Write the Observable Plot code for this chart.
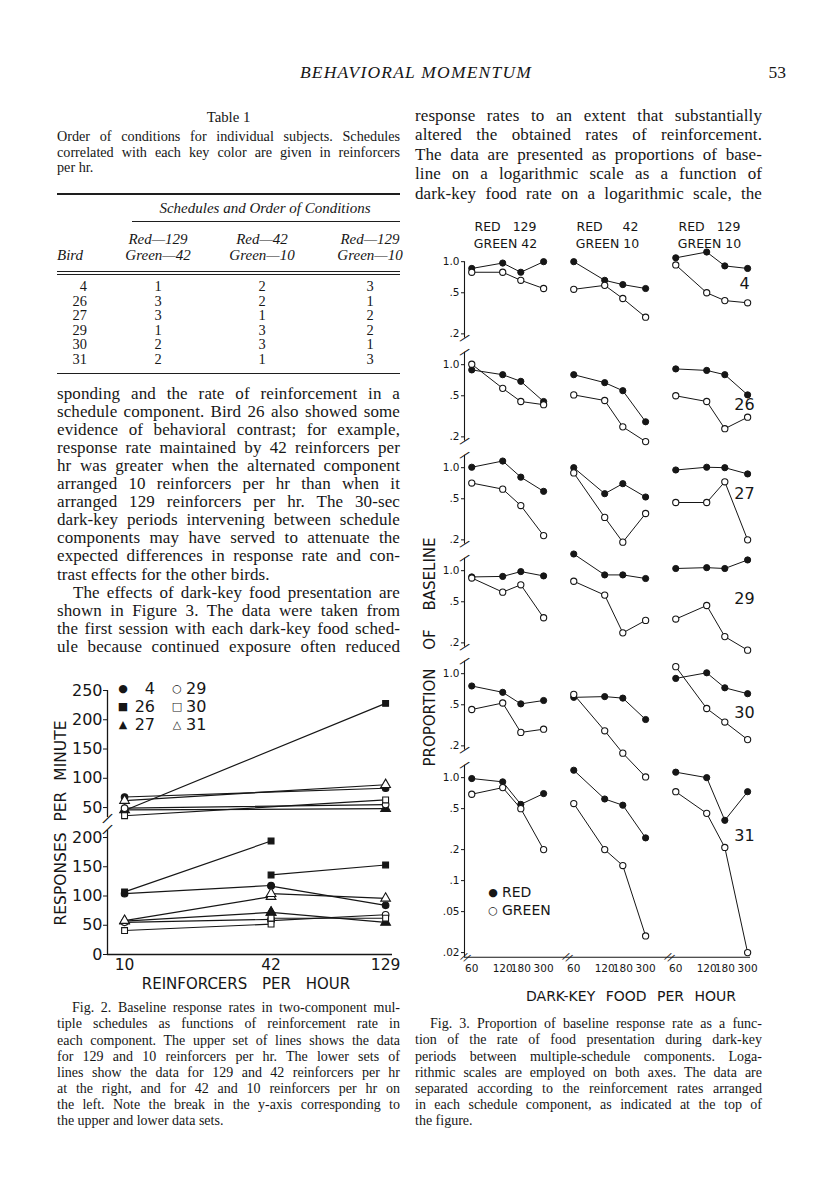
<!DOCTYPE html>
<html>
<head>
<meta charset="utf-8">
<script src="https://cdn.jsdelivr.net/npm/d3@7"></script>
<script src="https://cdn.jsdelivr.net/npm/@observablehq/plot@0.6"></script>
<style>
html,body{margin:0;padding:0;background:#fff;}
#page{position:relative;width:816px;height:1200px;overflow:hidden;background:#fff;color:#161616;font-family:"Liberation Serif","DejaVu Serif",serif;}
.t{position:absolute;white-space:nowrap;}
.j{text-align:justify;text-align-last:justify;}
.c{text-align:center;}
.r{text-align:right;}
.i{font-style:italic;}
.sans{font-family:"DejaVu Sans",sans-serif;}
.rule{position:absolute;background:#1e1e1e;}
.fig{position:absolute;}
.fig svg{max-width:none !important;overflow:visible;}
</style>
</head>
<body>
<div id="page"></div>
<script>
// ---------------- DATA ----------------
// Table 1
const tableBirds = ["4", "26", "27", "29", "30", "31"];
const orderRed129Green42 = [1, 3, 3, 1, 2, 2];
const orderRed42Green10 = [2, 2, 1, 3, 3, 1];
const orderRed129Green10 = [3, 1, 2, 2, 1, 3];

// Figure 2 (responses per minute)
const fig2Birds = ["4", "26", "27", "29", "30", "31"];
const fig2Ticks = [10, 42, 129];
const upperAt10 = [68, 45, 46, 49, 36, 62];
const upperAt129 = [83, 228, 48, 55, 63, 89];
const lowLeftAt10 = [104, 107, 57, 55, 41, 58];
const lowLeftAt42 = [118, 194, 72, 60, 52, 99];
const lowRightAt42 = [117, 136, 72, 58, 62, 104];
const lowRightAt129 = [84, 153, 55, 68, 62, 96];

// Figure 3 (proportion of baseline)
const darkKeyRates = [60, 120, 180, 300];
const condRed = [129, 42, 129];
const condGreen = [42, 10, 10];
const fig3Birds = ["4", "26", "27", "29", "30", "31"];
const red4 = [[0.86, 0.97, 0.79, 1.00], [1.00, 0.66, 0.60, 0.55], [1.09, 1.24, 0.91, 0.86]];
const green4 = [[0.79, 0.79, 0.66, 0.55], [0.54, 0.59, 0.44, 0.29], [0.93, 0.50, 0.42, 0.40]];
const red26 = [[0.89, 0.80, 0.69, 0.44], [0.80, 0.67, 0.56, 0.28], [0.91, 0.88, 0.80, 0.51]];
const green26 = [[1.01, 0.59, 0.44, 0.41], [0.51, 0.45, 0.25, 0.18], [0.50, 0.44, 0.24, 0.31]];
const red27 = [[1.01, 1.16, 0.81, 0.59], [1.00, 0.56, 0.70, 0.52], [0.95, 1.01, 1.00, 0.87]];
const green27 = [[0.71, 0.62, 0.43, 0.22], [0.89, 0.33, 0.19, 0.36], [0.46, 0.46, 0.73, 0.20]];
const red29 = [[0.87, 0.88, 0.98, 0.89], [1.45, 0.91, 0.91, 0.84], [1.05, 1.07, 1.05, 1.27]];
const green29 = [[0.85, 0.62, 0.73, 0.35], [0.79, 0.58, 0.25, 0.33], [0.34, 0.46, 0.23, 0.17]];
const red30 = [[0.76, 0.66, 0.51, 0.55], [0.59, 0.60, 0.58, 0.36], [0.90, 1.02, 0.73, 0.64]];
const green30 = [[0.45, 0.52, 0.27, 0.29], [0.63, 0.28, 0.17, 0.10], [1.17, 0.46, 0.34, 0.23]];
const red31 = [[0.98, 0.91, 0.55, 0.70], [1.18, 0.62, 0.54, 0.26], [1.13, 1.00, 0.385, 0.73]];
const green31 = [[0.69, 0.80, 0.50, 0.20], [0.56, 0.20, 0.14, 0.029], [0.73, 0.45, 0.21, 0.02]];
const fig3YTicksTop = [0.2, 0.5, 1];
const fig3YTicksBottom = [0.02, 0.05, 0.1, 0.2, 0.5, 1];

// Text
const headerTitle = "BEHAVIORAL MOMENTUM";
const pageNumber = "53";
const tableTitle = "Table 1";
const tableCaption = [
  "Order of conditions for individual subjects. Schedules",
  "correlated with each key color are given in reinforcers",
  "per hr."
];
const leftBody = [
  "sponding and the rate of reinforcement in a",
  "schedule component. Bird 26 also showed some",
  "evidence of behavioral contrast; for example,",
  "response rate maintained by 42 reinforcers per",
  "hr was greater when the alternated component",
  "arranged 10 reinforcers per hr than when it",
  "arranged 129 reinforcers per hr. The 30-sec",
  "dark-key periods intervening between schedule",
  "components may have served to attenuate the",
  "expected differences in response rate and con-",
  "trast effects for the other birds.",
  "The effects of dark-key food presentation are",
  "shown in Figure 3. The data were taken from",
  "the first session with each dark-key food sched-",
  "ule because continued exposure often reduced"
];
const rightBody = [
  "response rates to an extent that substantially",
  "altered the obtained rates of reinforcement.",
  "The data are presented as proportions of base-",
  "line on a logarithmic scale as a function of",
  "dark-key food rate on a logarithmic scale, the"
];
const fig2Caption = [
  "Fig. 2. Baseline response rates in two-component mul-",
  "tiple schedules as functions of reinforcement rate in",
  "each component. The upper set of lines shows the data",
  "for 129 and 10 reinforcers per hr. The lower sets of",
  "lines show the data for 129 and 42 reinforcers per hr",
  "at the right, and for 42 and 10 reinforcers per hr on",
  "the left. Note the break in the y-axis corresponding to",
  "the upper and lower data sets."
];
const fig3Caption = [
  "Fig. 3. Proportion of baseline response rate as a func-",
  "tion of the rate of food presentation during dark-key",
  "periods between multiple-schedule components. Loga-",
  "rithmic scales are employed on both axes. The data are",
  "separated according to the reinforcement rates arranged",
  "in each schedule component, as indicated at the top of",
  "the figure."
];

// ---------------- LAYOUT HELPERS ----------------
const page = document.getElementById("page");
const INK = "#161616";
function txt(str, x, yc, w, size, cls = "", extra = "") {
  const d = document.createElement("div");
  d.className = "t " + cls;
  d.textContent = str;
  d.style.cssText = `left:${x}px;top:${(yc - size * 0.62).toFixed(1)}px;width:${w}px;font-size:${size}px;line-height:${(size * 1.1).toFixed(1)}px;${extra}`;
  page.appendChild(d);
  return d;
}
function rule(x, y, w, h) {
  const d = document.createElement("div");
  d.className = "rule";
  d.style.cssText = `left:${x}px;top:${y}px;width:${w}px;height:${h}px;`;
  page.appendChild(d);
}
function figBox(node, x, y) {
  const d = document.createElement("div");
  d.className = "fig";
  d.style.left = x + "px";
  d.style.top = y + "px";
  d.appendChild(node);
  page.appendChild(d);
}
function rotated(str, cx, cy, size, extra = "") {
  const d = document.createElement("div");
  d.className = "t sans";
  d.textContent = str;
  d.style.cssText = `left:${cx}px;top:${cy}px;font-size:${size}px;line-height:${size}px;transform:translate(-50%,-50%) rotate(-90deg);${extra}`;
  page.appendChild(d);
}

// ---------------- PAGE HEADER ----------------
txt(headerTitle, 216, 74, 400, 17.5, "c i", "letter-spacing:1.2px;");
txt(pageNumber, 700, 74, 86, 17.5, "r");

// ---------------- TABLE 1 ----------------
const LX = 57, LW = 343;
txt(tableTitle, LX, 118, LW, 14.8, "c");
tableCaption.forEach((s, i) => txt(s, LX, 138 + i * 15.6, LW, 14.2, i < tableCaption.length - 1 ? "j" : ""));
rule(LX, 193, LW, 1.6);
txt("Schedules and Order of Conditions", 130, 209, 270, 15, "c i");
rule(132, 221, 268, 1);
const colCenters = [158, 262, 370];
const colHead1 = ["Red—129", "Red—42", "Red—129"];
const colHead2 = ["Green—42", "Green—10", "Green—10"];
colCenters.forEach((cx, i) => {
  txt(colHead1[i], cx - 50, 240, 100, 15, "c i");
  txt(colHead2[i], cx - 50, 256, 100, 15, "c i");
});
txt("Bird", LX, 256, 60, 15, "i");
rule(LX, 271, LW, 1);
rule(LX, 274, LW, 1);
const orders = [orderRed129Green42, orderRed42Green10, orderRed129Green10];
tableBirds.forEach((b, r) => {
  const y = 288 + r * 14.5;
  txt(b, LX, y, 30, 14.4, "r");
  orders.forEach((col, c) => txt(String(col[r]), colCenters[c] - 20, y, 40, 14.4, "c"));
});
rule(LX, 373, LW, 1.2);

// ---------------- BODY TEXT ----------------
const BODY = 17, LEAD = 18.1;
leftBody.forEach((s, i) => {
  const y = 395 + i * LEAD;
  const last = i === 10;
  const indent = i === 11 ? 16 : 0;
  txt(s, LX + indent, y, LW - indent, BODY, last ? "" : "j", "letter-spacing:0.1px;");
});
const RX = 415, RW = 347;
rightBody.forEach((s, i) => txt(s, RX, 117 + i * 19.5, RW, BODY, "j", "letter-spacing:0.1px;"));

// ---------------- CAPTIONS ----------------
fig2Caption.forEach((s, i) => {
  const indent = i === 0 ? 15 : 0;
  txt(s, LX + indent, 1009 + i * 16.1, LW - indent, 14, i === fig2Caption.length - 1 ? "" : "j");
});
fig3Caption.forEach((s, i) => {
  const indent = i === 0 ? 15 : 0;
  txt(s, RX + indent, 1025 + i * 16.1, RW - indent, 14, i === fig3Caption.length - 1 ? "" : "j");
});

// ---------------- FIGURE 2 ----------------
const shapes = {"4": ["circle", true], "26": ["square", true], "27": ["triangle", true],
                "29": ["circle", false], "30": ["square", false], "31": ["triangle", false]};
const pts = (set, xa, va, xb, vb) => fig2Birds.flatMap((b, i) => [
  {bird: b, set, x: xa, y: va[i]}, {bird: b, set, x: xb, y: vb[i]}
]);
const upperRows = pts("u", fig2Ticks[0], upperAt10, fig2Ticks[2], upperAt129);
const lowerRows = pts("l", fig2Ticks[0], lowLeftAt10, fig2Ticks[1], lowLeftAt42)
  .concat(pts("r", fig2Ticks[1], lowRightAt42, fig2Ticks[2], lowRightAt129));
const x2Domain = [8.46, 138];
function birdMarks(rows) {
  return fig2Birds.map(b => Plot.dot(rows.filter(d => d.bird === b), {
    x: "x", y: "y", symbol: shapes[b][0], r: shapes[b][0] === "triangle" ? 3.6 : 3.3,
    fill: shapes[b][1] ? INK : "white", stroke: INK, strokeWidth: 1.1
  }));
}
const fig2Style = {fontFamily: "'DejaVu Sans', sans-serif", fontSize: "16px", background: "transparent", color: INK, overflow: "visible"};
const fig2Upper = Plot.plot({
  width: 338, height: 137, marginLeft: 50, marginRight: 3, marginTop: 10, marginBottom: 0,
  x: {type: "log", domain: x2Domain, axis: null},
  y: {domain: [33, 250]},
  style: fig2Style,
  marks: [
    Plot.ruleX([x2Domain[0]], {stroke: INK, strokeWidth: 1.3}),
    Plot.axisY({ticks: [50, 100, 150, 200, 250], tickSize: 4, tickPadding: 1, label: null, fontSize: 16}),
    Plot.text([33], {x: () => x2Domain[0], y: d => d, text: () => "/", rotate: 28, fontSize: 15, dy: 1}),
    Plot.line(upperRows, {x: "x", y: "y", z: "bird", stroke: INK, strokeWidth: 1.2}),
    ...birdMarks(upperRows)
  ]
});
const fig2Lower = Plot.plot({
  width: 338, height: 149, marginLeft: 50, marginRight: 3, marginTop: 0, marginBottom: 25,
  x: {type: "log", domain: x2Domain},
  y: {domain: [0, 212]},
  style: fig2Style,
  marks: [
    Plot.ruleX([x2Domain[0]], {stroke: INK, strokeWidth: 1.3}),
    Plot.ruleY([0], {stroke: INK, strokeWidth: 1.3}),
    Plot.axisY({ticks: [0, 50, 100, 150, 200], tickSize: 4, tickPadding: 1, label: null, fontSize: 16}),
    Plot.axisX({ticks: fig2Ticks, tickFormat: d => String(d), tickSize: 0, tickPadding: 4, label: null, fontSize: 15.5}),
    Plot.text([212], {x: () => x2Domain[0], y: d => d, text: () => "/", rotate: 28, fontSize: 15, dy: -1}),
    Plot.line(lowerRows, {x: "x", y: "y", z: d => d.bird + d.set, stroke: INK, strokeWidth: 1.2}),
    ...birdMarks(lowerRows)
  ]
});
figBox(fig2Upper, 57, 680);
figBox(fig2Lower, 57, 830);
rotated("RESPONSES PER MINUTE", 62, 823, 15.5, "word-spacing:6px;");
txt("REINFORCERS PER HOUR", 96, 985, 300, 15, "c sans", "word-spacing:10px;");
// legend of figure 2
const legendRows = [["●", "4", "○", "29"], ["■", "26", "□", "30"], ["▲", "27", "△", "31"]];
legendRows.forEach((r, i) => {
  const y = 690 + i * 18;
  txt(r[0], 116, y, 14, 11, "c sans");
  txt(r[1], 125, y, 30, 16, "r sans");
  txt(r[2], 170, y, 14, 11, "c sans");
  txt(r[3], 186, y, 30, 16, "sans");
});

// ---------------- FIGURE 3 ----------------
const condKeys = ["c1", "c2", "c3"];
const redSets = {"4": red4, "26": red26, "27": red27, "29": red29, "30": red30, "31": red31};
const greenSets = {"4": green4, "26": green26, "27": green27, "29": green29, "30": green30, "31": green31};
const fig3Rows = [];
fig3Birds.forEach(b => condKeys.forEach((c, ci) => darkKeyRates.forEach((rate, ri) => {
  fig3Rows.push({bird: b, cond: c, key: "RED", rate, value: redSets[b][ci][ri]});
  fig3Rows.push({bird: b, cond: c, key: "GREEN", rate, value: greenSets[b][ci][ri]});
})));
const topBirds = fig3Birds.slice(0, 5);
const lastBird = fig3Birds[5];
const xLo = 51, xHi = 320;
const nb = "\u00a0";
const headerGaps = [3, 5, 3];
const headers = condKeys.map((c, i) => ({cond: c, bird: fig3Birds[0],
  label: `RED${nb.repeat(headerGaps[i])}${condRed[i]}\nGREEN${nb}${condGreen[i]}`}));
const fmt3 = d => d === 1 ? "1.0" : String(d).replace(/^0/, "");
const labelY = {"4": 0.61, "26": 0.41, "27": 0.56, "29": 0.53, "30": 0.42, "31": 0.27};
function panelMarks(rows, useFy) {
  const f = useFy ? {fx: "cond", fy: "bird"} : {fx: "cond"};
  return [
    Plot.line(rows, {x: "rate", y: "value", z: "key", ...f, stroke: INK, strokeWidth: 1}),
    Plot.dot(rows.filter(d => d.key === "RED"), {x: "rate", y: "value", ...f, r: 3.1, fill: INK, stroke: INK, strokeWidth: 1}),
    Plot.dot(rows.filter(d => d.key === "GREEN"), {x: "rate", y: "value", ...f, r: 3.1, fill: "white", stroke: INK, strokeWidth: 1.1})
  ];
}
const fig3Style = {fontFamily: "'DejaVu Sans', sans-serif", fontSize: "11px", background: "transparent", color: INK, overflow: "visible"};
const rowsTop = fig3Rows.filter(d => topBirds.includes(d.bird));
const rowsBottom = fig3Rows.filter(d => d.bird === lastBird);
const fig3Top = Plot.plot({
  width: 332, height: 551.5, marginLeft: 40, marginRight: 4.5, marginTop: 40, marginBottom: 0,
  x: {type: "log", domain: [xLo, xHi], axis: null},
  y: {type: "log", domain: [0.165, 1.5]},
  fx: {domain: condKeys, paddingInner: 0.2, paddingOuter: 0, axis: null},
  fy: {domain: topBirds, paddingInner: 0.0436, paddingOuter: 0, axis: null},
  style: fig3Style,
  marks: [
    Plot.ruleX(topBirds.map(b => ({bird: b, cond: condKeys[0], top: b === fig3Birds[0] ? 1 : 1.32})),
      {x: () => xLo, y1: () => 0.182, y2: "top", fx: "cond", fy: "bird", stroke: INK, strokeWidth: 1.1}),
    Plot.axisY({ticks: fig3YTicksTop, tickFormat: fmt3, tickSize: 3, tickPadding: 2, label: null, fontSize: 10.5}),
    Plot.text(topBirds.map(b => ({bird: b, cond: condKeys[0]})),
      {x: () => xLo, y: () => 0.182, fx: "cond", fy: "bird", text: () => "/", rotate: 40, fontSize: 13}),
    Plot.text(topBirds.slice(1).map(b => ({bird: b, cond: condKeys[0]})),
      {x: () => xLo, y: () => 1.32, fx: "cond", fy: "bird", text: () => "/", rotate: 40, fontSize: 13}),
    Plot.text(headers, {fx: "cond", fy: "bird", text: "label", frameAnchor: "top", lineAnchor: "bottom",
      dy: 4, fontSize: 12.5, lineHeight: 1.35}),
    ...panelMarks(rowsTop, true),
    Plot.text(topBirds.map(b => ({bird: b, cond: condKeys[2], y: labelY[b]})),
      {x: () => 280, y: "y", fx: "cond", fy: "bird", text: "bird", fontSize: 16})
  ]
});
const fig3Bottom = Plot.plot({
  width: 332, height: 220, marginLeft: 40, marginRight: 4.5, marginTop: 0, marginBottom: 22.2,
  x: {type: "log", domain: [xLo, xHi]},
  y: {type: "log", domain: [0.018, 1.5]},
  fx: {domain: condKeys, paddingInner: 0.2, paddingOuter: 0, axis: null},
  style: fig3Style,
  marks: [
    Plot.ruleX([{cond: condKeys[0]}], {x: () => xLo, y1: () => 0.018, y2: () => 1.32, fx: "cond", stroke: INK, strokeWidth: 1.1}),
    Plot.ruleY(condKeys.map((c, i) => ({cond: c, x2: i < 2 ? 500 : xHi})),
      {y: () => 0.018, x1: () => xLo, x2: "x2", fx: "cond", stroke: INK, strokeWidth: 1.1}),
    Plot.axisY({ticks: fig3YTicksBottom, tickFormat: fmt3, tickSize: 3, tickPadding: 2, label: null, fontSize: 10.5}),
    Plot.axisX({ticks: darkKeyRates, tickFormat: d => String(d), tickSize: 0, tickPadding: 7, label: null, fontSize: 10.5}),
    Plot.text([{cond: condKeys[0]}], {x: () => xLo, y: () => 1.32, fx: "cond", text: () => "/", rotate: 40, fontSize: 13}),
    Plot.text(condKeys.map(c => ({cond: c})), {x: () => xLo, y: () => 0.018, fx: "cond", text: () => "//", rotate: 30, fontSize: 11, dx: 1}),
    ...panelMarks(rowsBottom, false),
    Plot.text([{bird: lastBird, cond: condKeys[2], y: labelY[lastBird]}],
      {x: () => 280, y: "y", fx: "cond", text: "bird", fontSize: 16})
  ]
});
figBox(fig3Top, 423, 203);
figBox(fig3Bottom, 423, 758.9);
rotated("PROPORTION OF BASELINE", 430, 652, 15, "word-spacing:14px;");
txt("DARK-KEY FOOD PER HOUR", 481, 998, 300, 14, "c sans", "word-spacing:6px;");
txt("●", 486, 894, 14, 11, "c sans");
txt("RED", 502, 894, 60, 14, "sans");
txt("○", 486, 912, 14, 11, "c sans");
txt("GREEN", 502, 912, 80, 14, "sans");
</script>
</body>
</html>
